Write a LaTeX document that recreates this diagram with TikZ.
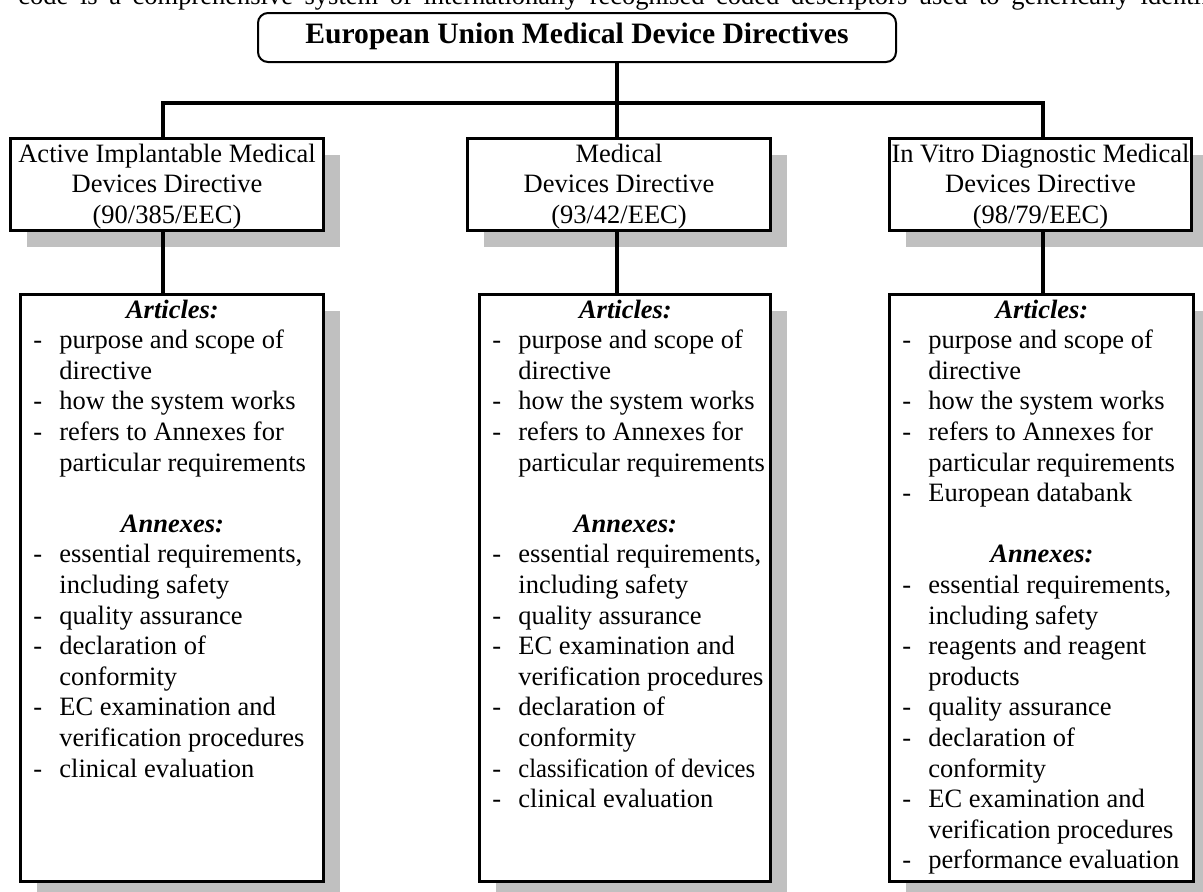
\documentclass[tikz,border=0pt]{standalone}
\usepackage{fontspec}
\usepackage{graphicx}
\setmainfont{Liberation Serif}
\usetikzlibrary{shadows}
\newlength\px \setlength\px{0.5pt}
\definecolor{shadowgray}{RGB}{192,192,192}
\newcommand\hd[2]{\hspace*{#1\px}\makebox[0pt][c]{\textbf{\textit{#2}}}\\}
\newcommand\bl[1]{\makebox[26\px][l]{-}#1\\}
\newcommand\cl[1]{\hspace*{26\px}#1\\}
\begin{document}
\begin{tikzpicture}[x=0.5pt,y=-0.5pt,
  dirbox/.style={draw, line width=1.5pt, fill=white, inner sep=0pt,
    drop shadow={shadow xshift=8pt, shadow yshift=-8pt, fill=shadowgray, opacity=1}},
  txt/.style={inner sep=0pt, font=\fontsize{13.25pt}{15.3pt}\selectfont},
  conn/.style={line width=1.6pt}]
\useasboundingbox (0,0) rectangle (1203,891);
\begin{scope}
\clip (0,0) rectangle (1203,891);
% intro text line (cut off at top)
\node[txt, anchor=base west] (intro) at (18,4) {\spaceskip=5.8pt\relax code is a comprehensive system of internationally recognised coded descriptors used to generically identify};
% title
\node[draw, line width=1pt, rounded corners=5pt, minimum width=319pt, minimum height=24.5pt, inner sep=0pt] (title) at (577,37.5) {};
\node[inner sep=0pt, anchor=base, font=\fontsize{14.8pt}{17pt}\selectfont\bfseries] (ttext) at (577,43) {European Union Medical Device Directives};
% directive boxes
\node[dirbox, minimum width=156.5pt, minimum height=46pt] (b1) at (167,184.5) {};
\node[dirbox, minimum width=151.5pt, minimum height=46pt] (b2) at (619,184.5) {};
\node[dirbox, minimum width=151pt, minimum height=46pt] (b3) at (1040.5,184.5) {};
\node[txt, anchor=base] (t1) at (167,162) {\parbox[t]{170pt}{\centering Active Implantable Medical\\Devices Directive\\(90/385/EEC)}};
\node[txt, anchor=base] (t2) at (619,162) {\parbox[t]{170pt}{\centering Medical\\Devices Directive\\(93/42/EEC)}};
\node[txt, anchor=base] (t3) at (1040.5,162) {\parbox[t]{170pt}{\centering In Vitro Diagnostic Medical\\Devices Directive\\(98/79/EEC)}};
% content boxes
\node[dirbox, minimum width=151.5pt, minimum height=293.5pt] (lb1) at (172,588) {};
\node[dirbox, minimum width=145.5pt, minimum height=293.5pt] (lb2) at (625,588) {};
\node[dirbox, minimum width=152pt, minimum height=293.5pt] (lb3) at (1041.5,588) {};
\node[txt, anchor=base west] (l1) at (33,318) {\parbox[t]{150pt}{%
\hd{139}{Articles:}%
\bl{purpose and scope of}%
\cl{directive}%
\bl{how the system works}%
\bl{refers to Annexes for}%
\cl{particular requirements}%
\mbox{}\\%
\hd{139}{Annexes:}%
\bl{essential requirements,}%
\cl{including safety}%
\bl{quality assurance}%
\bl{declaration of}%
\cl{conformity}%
\bl{EC examination and}%
\cl{verification procedures}%
\makebox[26\px][l]{-}clinical evaluation}};
\node[txt, anchor=base west] (l2) at (492,318) {\parbox[t]{150pt}{%
\hd{133}{Articles:}%
\bl{purpose and scope of}%
\cl{directive}%
\bl{how the system works}%
\bl{refers to Annexes for}%
\cl{particular requirements}%
\mbox{}\\%
\hd{133}{Annexes:}%
\bl{essential requirements,}%
\cl{including safety}%
\bl{quality assurance}%
\bl{EC examination and}%
\cl{verification procedures}%
\bl{declaration of}%
\cl{conformity}%
\bl{\scalebox{0.93}[1]{classification of devices}}%
\makebox[26\px][l]{-}clinical evaluation}};
\node[txt, anchor=base west] (l3) at (902,318) {\parbox[t]{150pt}{%
\hd{139.5}{Articles:}%
\bl{purpose and scope of}%
\cl{directive}%
\bl{how the system works}%
\bl{refers to Annexes for}%
\cl{particular requirements}%
\bl{European databank}%
\mbox{}\\%
\hd{139.5}{Annexes:}%
\bl{essential requirements,}%
\cl{including safety}%
\bl{reagents and reagent}%
\cl{products}%
\bl{quality assurance}%
\bl{declaration of}%
\cl{conformity}%
\bl{EC examination and}%
\cl{verification procedures}%
\makebox[26\px][l]{-}performance evaluation}};
% connectors
\coordinate (busL) at (163,103);
\coordinate (busM) at (617,103);
\coordinate (busR) at (1043,103);
\draw[conn] (title.south -| busM) -- (b2.north -| busM);
\draw[conn] (b1.north -| busL) -- (busL) -- (busR) -- (b3.north -| busR);
\draw[conn] (b1.south -| busL) -- (lb1.north -| busL);
\draw[conn] (b2.south -| busM) -- (lb2.north -| busM);
\draw[conn] (b3.south -| busR) -- (lb3.north -| busR);
\end{scope}
\end{tikzpicture}
\end{document}
